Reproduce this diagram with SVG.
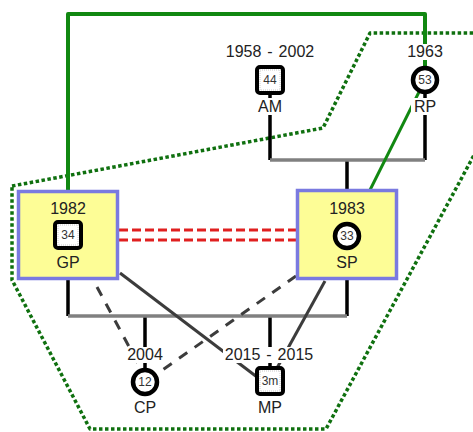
<svg xmlns="http://www.w3.org/2000/svg" width="473" height="432" viewBox="0 0 473 432">
  <style>
    text { font-family: "Liberation Sans", Arial, sans-serif; fill: #222; }
    .lbl { font-size: 16px; text-anchor: middle; }
    .wide { word-spacing: 1.5px; }
    .num { font-size: 12px; text-anchor: middle; fill: #333; }
    .bg { fill: #ffffff; }
    .box { fill: #fdfd96; stroke: #7a7ae0; stroke-width: 3.5; }
    .sq { fill: #ffffff; stroke: #000; stroke-width: 4; }
    .sqin { fill: none; stroke: #bbb; stroke-width: 0.8; stroke-dasharray: 1 1; }
    .circ { fill: #ffffff; stroke: #000; stroke-width: 4.5; }
    .stem { stroke: #000; stroke-width: 3.5; fill: none; }
    .bar { stroke: #808080; stroke-width: 3.5; fill: none; }
    .rel { stroke: #3c3c3c; stroke-width: 3; fill: none; }
    .reld { stroke: #3c3c3c; stroke-width: 3; fill: none; stroke-dasharray: 10 9; }
    .marr { stroke: #e02020; stroke-width: 3; fill: none; stroke-dasharray: 9 4; }
    .grn { stroke: #118811; stroke-width: 4; fill: none; stroke-linejoin: round; }
    .grp { stroke: #0f700f; stroke-width: 3.5; fill: none; stroke-dasharray: 3.5 2.5; stroke-linejoin: round; }
  </style>

  <!-- household outline -->
  <path class="grp" d="M12 186 L323 128 L370 33 L540 33 L326 429 L90 429 L12 280 Z"/>

  <g id="connectors">
    <!-- parents of SP -->
    <path class="stem" d="M270 92 V160 M425 92 V160 M347 160 V190"/>
    <path class="bar" d="M270 160 H425"/>
    <!-- children of GP and SP -->
    <path class="stem" d="M68 280 V316 M347 280 V316 M145 316 V370 M270 316 V370"/>
    <path class="bar" d="M68 316 H347"/>
    <!-- marriage -->
    <path class="marr" d="M119 230 H296 M119 240 H296"/>
    <!-- other relations -->
    <path class="rel" d="M120 273 L257 377"/>
    <path class="rel" d="M325 281 L277 368"/>
    <path class="reld" d="M97 287 L141 369"/>
    <path class="reld" d="M296 276 L154 376"/>
    <!-- green links -->
    <path class="grn" d="M68 190 V14 H425 V68"/>
    <path class="grn" style="stroke-width:3" d="M370 190 L419 92"/>
  </g>

  <g id="AM">
    <rect class="bg" x="224" y="44" width="92" height="16"/>
    <text class="lbl wide" x="270" y="57">1958 - 2002</text>
    <rect class="sq" x="257" y="67" width="26" height="26" rx="3"/>
    <rect class="sqin" x="260" y="70" width="20" height="20"/>
    <text class="num" x="270" y="84">44</text>
    <rect class="bg" x="257" y="98" width="26" height="17"/>
    <text class="lbl" x="270" y="112">AM</text>
  </g>

  <g id="RP">
    <rect class="bg" x="406" y="44" width="38" height="16"/>
    <text class="lbl" x="425" y="57">1963</text>
    <circle class="circ" cx="425" cy="80" r="12"/>
    <text class="num" x="425" y="84">53</text>
    <rect class="bg" x="411" y="98" width="28" height="17"/>
    <text class="lbl" x="425" y="112">RP</text>
  </g>

  <g id="GP">
    <rect class="box" x="18.5" y="191.5" width="99" height="87"/>
    <text class="lbl" x="68" y="214">1982</text>
    <rect class="sq" x="55" y="222" width="26" height="26" rx="3"/>
    <rect class="sqin" x="58" y="225" width="20" height="20"/>
    <text class="num" x="68" y="239">34</text>
    <text class="lbl" x="68" y="268">GP</text>
  </g>

  <g id="SP">
    <rect class="box" x="297.5" y="190.5" width="99" height="88"/>
    <text class="lbl" x="347" y="214">1983</text>
    <circle class="circ" cx="347" cy="236" r="12"/>
    <text class="num" x="347" y="240">33</text>
    <text class="lbl" x="347" y="268">SP</text>
  </g>

  <g id="CP">
    <rect class="bg" x="126" y="347" width="38" height="16"/>
    <text class="lbl" x="145" y="360">2004</text>
    <circle class="circ" cx="145" cy="382" r="12"/>
    <text class="num" x="145" y="386">12</text>
    <text class="lbl" x="145" y="413">CP</text>
  </g>

  <g id="MP">
    <rect class="bg" x="223" y="347" width="92" height="16"/>
    <text class="lbl wide" x="269" y="360">2015 - 2015</text>
    <rect class="sq" x="257" y="368" width="26" height="26" rx="3"/>
    <rect class="sqin" x="260" y="371" width="20" height="20"/>
    <text class="num" x="270" y="385">3m</text>
    <text class="lbl" x="270" y="413">MP</text>
  </g>
</svg>
